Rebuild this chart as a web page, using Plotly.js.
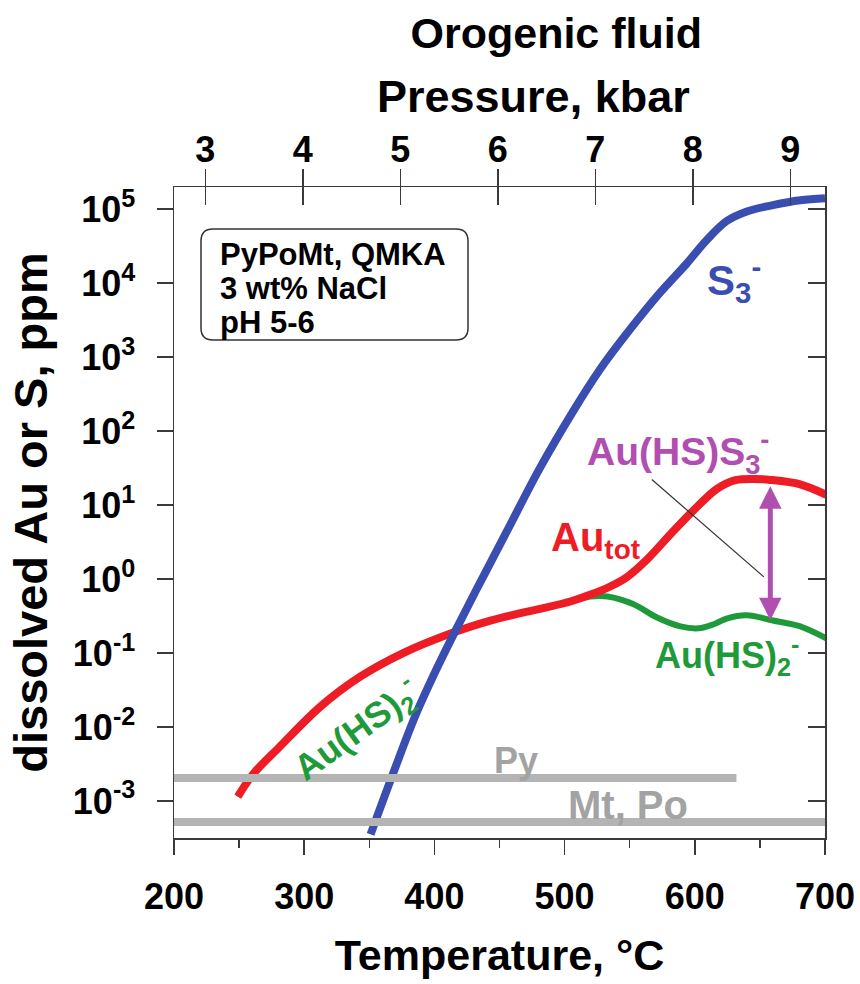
<!DOCTYPE html>
<html>
<head>
<meta charset="utf-8">
<script src="https://cdn.plot.ly/plotly-3.0.1.min.js"></script>
<style>
  html, body { margin: 0; padding: 0; background: #ffffff; }
  #chart { width: 860px; height: 984px; }
</style>
</head>
<body>
<div id="chart"></div>
<script>
// ---------- data ----------
// S3- (blue), ppm
const T_S3 = [351, 368, 386, 404, 417, 435, 455.5, 481, 507, 527, 550, 573, 594, 609, 624.5, 640, 660, 681, 700];
const S3   = [3.55e-4, 2.29e-3, 0.0151, 0.0741, 0.214, 0.891, 4.37, 31.6, 191, 676, 2340, 7330, 18600, 38000, 69200, 93300, 113500, 132000, 141000];

// Au total (red), ppm
const T_tot  = [249, 261, 281, 312, 343, 376, 415, 443, 466, 487, 505, 520, 535, 548, 563, 582, 599, 617, 632, 645, 658, 681, 701];
const Au_tot = [1.15e-3, 2.34e-3, 5.37e-3, 0.0186, 0.0479, 0.100, 0.191, 0.275, 0.347, 0.417, 0.501, 0.617, 0.794, 1.07, 1.82, 4.17, 8.51, 16.6, 21.9, 22.6, 21.9, 19.1, 13.8];

// Au(HS)2- (green), ppm
const T_HS2  = [249, 261, 281, 312, 343, 376, 415, 443, 466, 487, 505, 520, 533, 553, 571, 589, 603, 614, 625, 640, 660, 681, 701];
const Au_HS2 = [1.15e-3, 2.34e-3, 5.37e-3, 0.0186, 0.0479, 0.100, 0.191, 0.275, 0.347, 0.417, 0.501, 0.582, 0.582, 0.457, 0.302, 0.229, 0.216, 0.243, 0.295, 0.324, 0.275, 0.229, 0.158];

// Mineral solubility limits (grey), ppm
const T_Py   = [200, 632];
const Py     = [2.04e-3, 2.04e-3];
const T_MtPo = [200, 700];
const MtPo   = [5.2e-4, 5.2e-4];

// Au(HS)S3- contribution arrow at 658 °C, ppm
const arrowT = 658;
const arrowTop = 18.0;
const arrowBottom = 0.265;

// leader line for the Au(HS)S3- label
const leaderT = [567, 653];
const leaderV = [22.2, 1.07];

// axes
const xTicks = [200, 300, 400, 500, 600, 700];
const yTicks = [1e-3, 1e-2, 1e-1, 1e0, 1e1, 1e2, 1e3, 1e4, 1e5];
const yTickText = ['10<sup>-3</sup>', '10<sup>-2</sup>', '10<sup>-1</sup>', '10<sup>0</sup>', '10<sup>1</sup>', '10<sup>2</sup>', '10<sup>3</sup>', '10<sup>4</sup>', '10<sup>5</sup>'];
const pTicks = [3, 4, 5, 6, 7, 8, 9];
const pRange = [2.679, 9.355];
const tRange = [200, 700];
const yRangeLog = [-3.5, 5.3];

// ---------- styling ----------
const FONT = 'Liberation Sans, Arial, Helvetica, sans-serif';
const BLUE = '#3a4db0', RED = '#ee1c25', GREEN = '#1f9a3a', PURPLE = '#b04fb0', GREY = '#b4b4b4', GREYTXT = '#a3a3a3';
const FRAME = '#3a3a3a';
const L = Math.log10;

const traces = [
  {x: T_HS2, y: Au_HS2, type: 'scatter', mode: 'lines', line: {color: GREEN, width: 6, shape: 'spline', smoothing: 0.9}, hoverinfo: 'skip'},
  {x: T_tot, y: Au_tot, type: 'scatter', mode: 'lines', line: {color: RED, width: 8, shape: 'spline', smoothing: 0.9}, hoverinfo: 'skip'},
  {x: T_S3, y: S3, type: 'scatter', mode: 'lines', line: {color: BLUE, width: 8, shape: 'spline', smoothing: 1.0}, hoverinfo: 'skip'},
  {x: leaderT, y: leaderV, type: 'scatter', mode: 'lines', line: {color: '#333333', width: 1.2}, hoverinfo: 'skip'},
  {x: T_Py, y: Py, type: 'scatter', mode: 'lines', line: {color: GREY, width: 8}, hoverinfo: 'skip'},
  {x: T_MtPo, y: MtPo, type: 'scatter', mode: 'lines', line: {color: GREY, width: 8}, hoverinfo: 'skip'},
  // anchors for the pressure axis and the right-hand tick axis (no visible marks)
  {x: pTicks, y: pTicks.map(() => null), xaxis: 'x2', yaxis: 'y', type: 'scatter', mode: 'lines', hoverinfo: 'skip'},
  {x: pTicks, y: pTicks.map(() => null), xaxis: 'x3', yaxis: 'y', type: 'scatter', mode: 'lines', hoverinfo: 'skip'},
  {x: xTicks, y: xTicks.map(() => null), xaxis: 'x', yaxis: 'y2', type: 'scatter', mode: 'lines', hoverinfo: 'skip'}
];

const tickFont = {family: FONT, size: 36, color: '#000', weight: 700};
const labelFont = (size, color) => ({family: FONT, size: size, color: color, weight: 700});

// rounded box in paper coords
const bx0 = 27/651, bx1 = 294/651, by1 = 1 - 42/651, by0 = 1 - 153/651, rx = 12/651, ry = 12/651;
const boxPath = `M ${bx0+rx},${by1} L ${bx1-rx},${by1} Q ${bx1},${by1} ${bx1},${by1-ry} L ${bx1},${by0+ry} Q ${bx1},${by0} ${bx1-rx},${by0} L ${bx0+rx},${by0} Q ${bx0},${by0} ${bx0},${by0+ry} L ${bx0},${by1-ry} Q ${bx0},${by1} ${bx0+rx},${by1} Z`;

const layout = {
  width: 860, height: 984,
  margin: {l: 174, r: 35, t: 187, b: 146},
  paper_bgcolor: '#ffffff', plot_bgcolor: '#ffffff',
  showlegend: false,
  title: {text: 'Orogenic fluid', font: labelFont(43, '#000'), x: 505/860, xanchor: 'center', xref: 'paper', y: 1 - 33/984, yanchor: 'middle', yref: 'container'},
  xaxis: {
    range: tRange, tickvals: xTicks, ticks: 'outside', ticklen: 15, tickwidth: 1.5, tickcolor: FRAME,
    minor: {dtick: 50, tick0: 200, ticks: 'outside', ticklen: 8, tickwidth: 1.5, tickcolor: FRAME, showgrid: false},
    showline: true, linecolor: FRAME, linewidth: 1.5, showgrid: false, zeroline: false,
    tickfont: tickFont, ticklabelstandoff: 11,
    title: {text: 'Temperature, °C', font: labelFont(43, '#000'), standoff: 24}
  },
  xaxis2: {
    overlaying: 'x', side: 'top', range: pRange, tickvals: pTicks, ticks: 'outside', ticklen: 17, tickwidth: 1.5, tickcolor: FRAME,
    showline: true, linecolor: FRAME, linewidth: 1.5, showgrid: false, zeroline: false,
    tickfont: tickFont, ticklabelstandoff: -8
  },
  xaxis3: {
    overlaying: 'x', side: 'top', range: pRange, tickvals: pTicks, ticks: 'inside', ticklen: 18, tickwidth: 1.5, tickcolor: FRAME,
    showline: false, showgrid: false, zeroline: false, showticklabels: false
  },
  yaxis: {
    type: 'log', range: yRangeLog, tickvals: yTicks, ticktext: yTickText, ticks: 'outside', ticklen: 16, tickwidth: 1.5, tickcolor: FRAME,
    showline: true, linecolor: FRAME, linewidth: 1.5, showgrid: false, zeroline: false,
    tickfont: tickFont, ticklabelstandoff: 14,
    title: {text: 'dissolved Au or S, ppm', font: labelFont(47, '#000'), standoff: 10}
  },
  yaxis2: {
    type: 'log', overlaying: 'y', side: 'right', range: yRangeLog, tickvals: yTicks, ticks: 'inside', ticklen: 17, tickwidth: 1.5, tickcolor: FRAME,
    showline: true, linecolor: FRAME, linewidth: 1.5, showgrid: false, zeroline: false, showticklabels: false
  },
  shapes: [
    {type: 'path', xref: 'paper', yref: 'paper', path: boxPath, line: {color: '#333333', width: 1.5}, fillcolor: 'rgba(0,0,0,0)'}
  ],
  annotations: [
    {text: 'Pressure, kbar', xref: 'paper', yref: 'paper', x: (533-174)/651, y: 1 + (187-97)/651, xanchor: 'center', yanchor: 'middle', showarrow: false, font: labelFont(45, '#000')},
    {text: 'PyPoMt, QMKA', xref: 'paper', yref: 'paper', x: (218-174)/651, y: 1 - (254-187)/651, xanchor: 'left', yanchor: 'middle', showarrow: false, font: labelFont(31, '#000')},
    {text: '3 wt% NaCl', xref: 'paper', yref: 'paper', x: (218-174)/651, y: 1 - (288-187)/651, xanchor: 'left', yanchor: 'middle', showarrow: false, font: labelFont(31, '#000')},
    {text: 'pH 5-6', xref: 'paper', yref: 'paper', x: (218-174)/651, y: 1 - (322-187)/651, xanchor: 'left', yanchor: 'middle', showarrow: false, font: labelFont(31, '#000')},
    {text: 'S<sub>3</sub><sup>-</sup>', x: 630, y: L(1.12e4), xanchor: 'center', yanchor: 'middle', showarrow: false, font: labelFont(42, BLUE)},
    {text: 'Au(HS)S<sub>3</sub><sup>-</sup>', x: 587, y: L(52), xanchor: 'center', yanchor: 'middle', showarrow: false, font: labelFont(39, PURPLE)},
    {text: 'Au<sub>tot</sub>', x: 524, y: L(3.37), xanchor: 'center', yanchor: 'middle', showarrow: false, font: labelFont(40, RED)},
    {text: 'Au(HS)<sub>2</sub><sup>-</sup>', x: 625, y: L(0.094), xanchor: 'center', yanchor: 'middle', showarrow: false, font: labelFont(36, GREEN)},
    {text: 'Au(HS)<sub>2</sub><sup>-</sup>', x: 340, y: L(0.0094), xanchor: 'center', yanchor: 'middle', textangle: -36, showarrow: false, font: labelFont(36, GREEN)},
    {text: 'Py', x: 463, y: L(3.58e-3), xanchor: 'center', yanchor: 'middle', showarrow: false, font: labelFont(36, GREYTXT)},
    {text: 'Mt, Po', x: 549, y: L(8.8e-4), xanchor: 'center', yanchor: 'middle', showarrow: false, font: labelFont(40, GREYTXT)},
    {text: '', x: arrowT, y: L(arrowTop), ax: arrowT, ay: L(arrowBottom), axref: 'x', ayref: 'y', xref: 'x', yref: 'y',
     showarrow: true, arrowhead: 2, startarrowhead: 2, arrowside: 'end+start', arrowwidth: 5, arrowsize: 0.9, startarrowsize: 0.9, arrowcolor: PURPLE, standoff: 0, startstandoff: 0}
  ]
};

Plotly.newPlot('chart', traces, layout, {displayModeBar: false, staticPlot: true});
</script>
</body>
</html>
